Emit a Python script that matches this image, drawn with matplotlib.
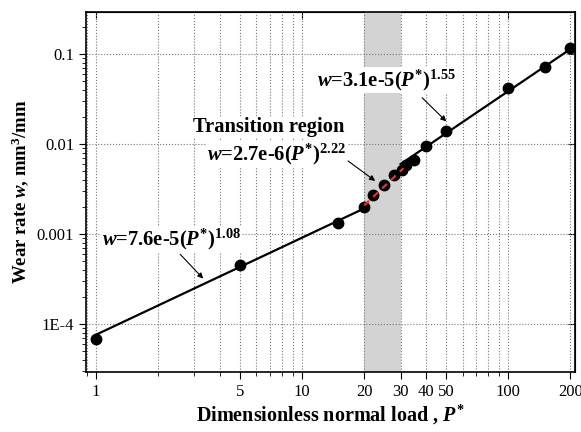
# All imports
import matplotlib
matplotlib.use("Agg")
import matplotlib.pyplot as plt
from matplotlib.ticker import FixedLocator, NullFormatter, LogLocator

# Font setup (Times-like bold serif)
plt.rcParams['font.family'] = 'Liberation Serif'
plt.rcParams['mathtext.fontset'] = 'custom'
plt.rcParams['mathtext.rm'] = 'Liberation Serif:bold'
plt.rcParams['mathtext.bf'] = 'Liberation Serif:bold'
plt.rcParams['mathtext.it'] = 'Liberation Serif:italic:bold'
plt.rcParams['mathtext.default'] = 'bf'

# Measured wear data
load = [1, 5, 15, 20, 22, 25, 28, 30.5, 32, 35, 40, 50, 100, 150, 200]
wear = [6.8e-5, 4.5e-4, 1.32e-3, 2.0e-3, 2.7e-3, 3.5e-3, 4.5e-3, 5.2e-3,
        5.8e-3, 6.7e-3, 9.6e-3, 0.0139, 0.0416, 0.0714, 0.116]

# Fit line end points
fit1_x = [1, 20]
fit1_y = [7.6e-5, 1.93e-3]
fit2_x = [20, 31]
fit2_y = [2.09e-3, 5.4e-3]
fit3_x = [30, 200]
fit3_y = [6.0e-3, 0.114]

# Shaded transition band
band = [20, 30]

# Tick labels
x_ticks = [1, 5, 10, 20, 30, 40, 50, 100, 200]
x_labels = ["1", "5", "10", "20", "30", "40", "50", "100", "200"]
y_ticks = [1e-4, 1e-3, 1e-2, 1e-1]
y_labels = ["1E-4", "0.001", "0.01", "0.1"]

fig = plt.figure(figsize=(5.81, 4.32), dpi=100)
ax = fig.add_axes([0.148, 0.139, 0.842, 0.833])
ax.set_xscale('log')
ax.set_yscale('log')
ax.set_xlim(0.894, 211)
ax.set_ylim(2.93e-5, 0.294)

# Grid
ax.xaxis.set_major_locator(FixedLocator(x_ticks))
ax.set_xticklabels(x_labels)
ax.xaxis.set_minor_locator(LogLocator(base=10, subs=range(2, 10)))
ax.xaxis.set_minor_formatter(NullFormatter())
ax.yaxis.set_major_locator(FixedLocator(y_ticks))
ax.set_yticklabels(y_labels)
ax.yaxis.set_minor_locator(LogLocator(base=10, subs=range(2, 10)))
ax.yaxis.set_minor_formatter(NullFormatter())
ax.grid(which='both', axis='x', linestyle=':', color='#777777', linewidth=0.8)
ax.grid(which='major', axis='y', linestyle=':', color='#777777', linewidth=0.8)
ax.set_axisbelow(True)

ax.axvspan(band[0], band[1], color='#d3d3d3', zorder=0.5, linewidth=0)

# Fit lines and data points
ax.plot(fit1_x, fit1_y, color='black', linewidth=1.6, zorder=3)
ax.plot(fit3_x, fit3_y, color='black', linewidth=1.6, zorder=3)
ax.plot(load, wear, 'o', color='black', markersize=7.5, zorder=4)
ax.plot(fit2_x, fit2_y, color='#e8302e', linewidth=1.6, dashes=(3, 2.5), zorder=5)

# Ticks
ax.tick_params(which='major', direction='out', length=5, width=0.8, labelsize=12)
ax.tick_params(which='minor', direction='out', length=3, width=0.6)
for s in ax.spines.values():
    s.set_linewidth(1.2)

top = ax.secondary_xaxis('top')
top.set_xticks([1, 10, 100])
top.xaxis.set_minor_locator(FixedLocator([]))
top.tick_params(direction='in', length=5, labeltop=False)
right = ax.secondary_yaxis('right')
right.set_yticks(y_ticks)
right.yaxis.set_minor_locator(FixedLocator([]))
right.tick_params(direction='in', length=5, labelright=False)

# Labels
ax.set_xlabel(r'Dimensionless normal load , $\mathit{P}^{*}$', fontsize=14.5,
              fontweight='bold', labelpad=2)
ax.set_ylabel(r'Wear rate $\mathit{w}$, mm$^{3}$/mm', fontsize=13.5,
              fontweight='bold', labelpad=4)

# Annotations
box = dict(facecolor='white', edgecolor='none', pad=0.5)
txt = dict(fontsize=14.8, fontweight='bold', ha='left', va='center', zorder=6, bbox=box)
ax.text(11.8, 0.0518, r'$\mathit{w}$=3.1e-5($\mathit{P}^{*}$)$^{1.55}$', **txt)
ax.text(2.96, 0.0154, 'Transition region', **txt)
ax.text(3.46, 7.7e-3, r'$\mathit{w}$=2.7e-6($\mathit{P}^{*}$)$^{2.22}$', **txt)
ax.text(1.07, 8.8e-4, r'$\mathit{w}$=7.6e-5($\mathit{P}^{*}$)$^{1.08}$', **txt)

arrow = dict(arrowstyle='-|>', color='black', linewidth=0.8, mutation_scale=8,
             shrinkA=0, shrinkB=0)
ax.annotate('', xy=(50, 0.0179), xytext=(38.2, 0.0328), arrowprops=arrow, zorder=6)
ax.annotate('', xy=(22.6, 3.9e-3), xytext=(16.7, 6.5e-3), arrowprops=arrow, zorder=6)
ax.annotate('', xy=(3.31, 3.2e-4), xytext=(2.56, 5.96e-4), arrowprops=arrow, zorder=6)

fig.savefig('out.png', dpi=100)
